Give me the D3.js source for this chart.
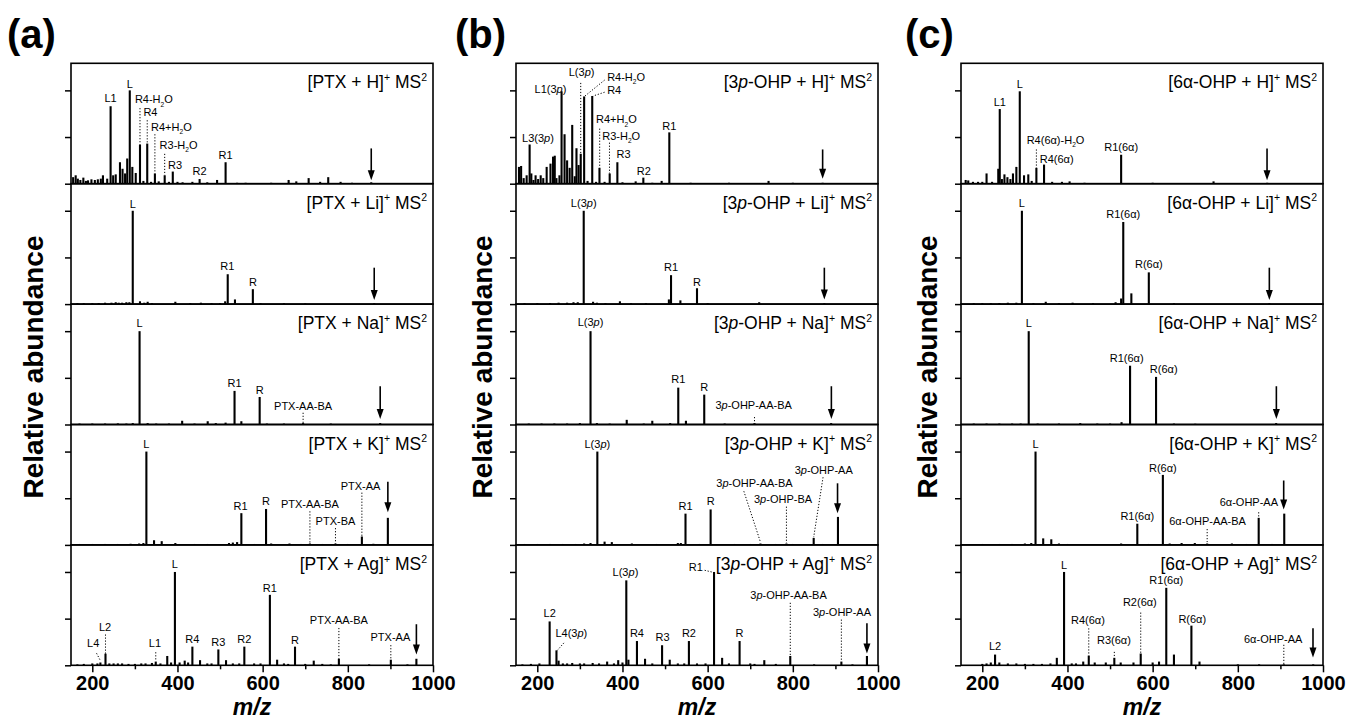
<!DOCTYPE html>
<html lang="en">
<head>
<meta charset="UTF-8">
<title>MS2 spectra of PTX, 3p-OHP and 6a-OHP adducts</title>
<script src="https://cdn.jsdelivr.net/npm/d3@7"></script>
<style>
	body { margin: 0; background: #fff; }
	svg { font-family: "Liberation Sans", Arial, sans-serif; }
	.pk { stroke: #000; stroke-width: 2.1; }
	.lead { stroke: #000; stroke-width: 1; stroke-dasharray: 1.2, 1.8; }
	.lbl { font-size: 11px; fill: #000; }
</style>
</head>
<body>
<script>
// ---- data (m/z, relative abundance) ----
var mzRange = [150, 1000];
var xTicks = [200, 400, 600, 800, 1000];
var xMinor = [300, 500, 700, 900];
var yTicks = [0, 50, 100];
var columnTags = ['(a)', '(b)', '(c)'];
var yTitle = 'Relative abundance';
var xTitle = 'm/z';

var titlesA = ['[PTX + H]^+ MS^2', '[PTX + Li]^+ MS^2', '[PTX + Na]^+ MS^2', '[PTX + K]^+ MS^2', '[PTX + Ag]^+ MS^2'];
var titlesB = ['[3*p*-OHP + H]^+ MS^2', '[3*p*-OHP + Li]^+ MS^2', '[3*p*-OHP + Na]^+ MS^2', '[3*p*-OHP + K]^+ MS^2', '[3*p*-OHP + Ag]^+ MS^2'];
var titlesC = ['[6α-OHP + H]^+ MS^2', '[6α-OHP + Li]^+ MS^2', '[6α-OHP + Na]^+ MS^2', '[6α-OHP + K]^+ MS^2', '[6α-OHP + Ag]^+ MS^2'];

var aH = [[155,7],[161,9],[166,5.4],[172,4],[179,6.5],[185,3],[190,3.6],[198,4.7],[206,4],[213,4.7],[220,5.4],[225,9],[235,5.4],[243,83],[249,9],[255,10],[265,23],[271,16],[277,11],[282,27],[288,100],[294,18],[302,11.5],[312,42],[320,3],[329,43],[338,2],[347,11],[356,2.5],[370,9],[380,2],[389,13],[400,2],[412,1.5],[435,2],[452,5],[470,1.5],[493,4],[513,23],[540,1],[560,1],[620,1],[661,4],[679,2.5],[708,6],[735,2],[754,7],[783,2],[810,1],[855,1.5]];
var aLi = [[165,1],[180,1],[200,1],[215,1.2],[230,1.5],[245,1.5],[255,2],[262,1.5],[270,1.5],[280,2],[287,2],[295,100],[312,3],[322,1.5],[330,2.5],[340,1],[395,2.5],[430,1],[455,1.5],[480,1],[500,1],[512,3],[518,32],[535,5],[577,16],[595,1],[650,1],[700,0.8],[862,1]];
var aNa = [[170,1],[200,1],[230,1],[260,1.2],[280,1],[295,1.5],[311,100],[330,1.5],[350,1],[380,1],[411,4],[440,1],[471,3.5],[490,1.5],[513,2],[534,36],[550,3.5],[593,29.5],[610,1],[650,1],[695,1.5],[760,1],[876,1.5]];
var aK = [[170,1],[200,1],[230,1],[260,1],[290,1.2],[310,1.5],[320,2],[327,100],[345,5],[363,4],[395,2],[440,1],[470,1],[521,2],[530,2.5],[540,3],[550,34],[580,1],[608,38.5],[620,1.5],[663,1.5],[690,1],[711,1.5],[740,1],[771,1.5],[800,1],[833,9],[860,1.2],[894,29],[920,0.8]];
var aAg = [[165,1],[180,1.5],[200,2],[212,2],[219,3],[231,12.5],[240,2],[250,2],[260,2],[270,2],[285,1.5],[300,1.5],[315,2],[325,2],[340,2.5],[349,4],[360,2],[376,10],[385,3],[394,100],[405,3],[417,5],[425,3],[435,20],[453,5.5],[470,2],[480,2],[496,17],[514,5.5],[530,2],[545,2],[557,20],[580,2],[595,2],[617,75.5],[634,6],[650,2],[660,1.5],[676,20],[700,1.5],[720,5],[740,1.5],[760,1],[779,7],[850,1],[901,6],[940,1],[961,7]];

var bH = [[157,18],[162,19],[168,6],[175,9],[182,42],[186,11],[191,4],[196,9],[202,5],[208,9],[214,6],[222,18],[231,21.5],[237,29],[241,30],[245,6],[252,9],[257,99],[264,53],[270,25],[276,17],[282,63],[288,8],[292,38],[297,20],[302,32],[310,93.5],[318,3],[329,94],[338,2],[346,17],[358,2],[370,11],[388,23],[400,1.5],[431,2.5],[449,6.5],[470,1],[492,3],[510,55],[560,1],[650,1],[743,3],[800,1],[870,1]];
var bLi = [[170,1],[200,1],[230,1.2],[250,1.5],[270,1.5],[285,2],[295,2],[309,100],[331,2.5],[340,1.5],[360,1],[394,3],[420,1],[455,1],[509,5],[514,31],[536,4],[575,17],[600,1],[721,2],[874,1]];
var bNa = [[180,1],[210,1],[240,1],[270,1],[300,1.5],[325,100],[340,1.5],[370,1],[410,5],[450,1],[470,4],[512,1.5],[531,39.5],[549,4],[592,32],[640,1],[710,1.5],[890,1.5]];
var bK = [[170,1],[200,1],[230,1],[260,1],[290,1],[310,1.5],[325,2],[341,100],[358,3.5],[375,3],[422,1.5],[480,1],[530,2],[537,2],[548,33.5],[580,1],[607,38],[663,1],[700,1],[724,1.5],[760,1],[785,1.5],[800,1],[849,7.5],[870,1],[906,30]];
var bAg = [[165,1],[185,1.5],[205,2],[229,47],[245,16],[250,5],[260,2],[270,2],[282,2.5],[300,2],[310,2],[330,2.5],[345,2],[364,4],[380,2],[390,5.5],[400,3],[409,91],[414,6],[434,26],[453,7],[470,2],[493,21.5],[511,6],[530,2],[545,2],[556,26],[575,2],[595,2],[615,100],[634,8],[650,2],[675,26],[700,2],[710,1.5],[733,5.5],[760,1.5],[794,10],[850,1],[914,4],[940,1],[974,10]];

var cH = [[161,4],[167,3.5],[178,2],[190,2],[200,2],[210,11],[223,2],[237.5,16],[241,80],[246,5],[252,10],[259,7],[266,5],[272,11],[280,18],[288,99],[298,9],[308,10],[316,3],[327,17],[345,20.5],[364,2],[387,2],[405,2.5],[440,1],[526,31],[600,1],[743,2.5],[869,1]];
var cLi = [[180,1],[200,1],[220,1],[240,1.2],[260,1.5],[280,1.5],[293,100],[320,1],[349,2.5],[380,1],[412,1.5],[460,1],[513,2],[526,6],[531,88],[550,11.5],[591,34],[650,1],[874,1]];
var cNa = [[180,1],[210,1],[240,1],[270,1],[290,1],[309,100],[330,1],[380,1],[430,1.5],[470,1],[500,1],[527,2.5],[547,63],[608,51],[650,1],[700,0.8],[890,1.5]];
var cK = [[200,1],[240,1],[270,1],[300,1.5],[315,2],[325,100],[343,7],[362,6],[380,1.5],[400,1],[526,1.5],[564,22.7],[590,1],[624,75],[640,1.5],[668,2],[699,2],[728,1.5],[786,1.5],[820,1],[849,29],[880,1],[909,33.5]];
var cAg = [[200,1.5],[210,2],[220,3],[230,11.5],[240,3],[260,2],[280,2],[300,1.5],[320,1.5],[340,1.5],[360,2],[375,8],[392,100],[410,2],[420,2],[437,4],[450,10.4],[464,3],[490,3],[510,8],[525,3],[555,3],[572,12.6],[600,3],[615,4],[632,83],[650,11.5],[691,42.5],[710,4],[800,1],[850,1],[908,1],[977,1]];

// peak labels: [text, m/z, abundance at baseline, anchor, dotted leader [mz1, y1, mz2, y2]]
var aHLab = [['L1',243,87],['L',288,102.5],['R4-H_2O',300,86,'s',[312,81,312,42]],['R4',320,72,'s',[329,68,329,43]],['R4+H_2O',338,56.5,'s',[347,53,347,11]],['R3-H_2O',358,37,'s',[370,32,370,9]],['R3',378,16,'s'],['R2',452,9],['R1',513,26]];
var aLiLab = [['L',295,103],['R1',517,36.7],['R',577,19.4]];
var aNaLab = [['L',311,104],['R1',534,40.6],['R',593,33],['PTX-AA-BA',695,15.5,'m',[695,12.6,695,1]]];
var aKLab = [['L',327,103.6],['R1',548,37.8],['R',608,42.4],['PTX-AA-BA',711,39.6,'m',[711,36,711,2]],['PTX-BA',771,21.6,'m',[771,18,771,1.5]],['PTX-AA',830,58.6,'m',[833,56,833,9]]];
var aAgLab = [['L',394,104],['R1',617,78.4],['R4',435,24],['R3',496,21],['R2',557,24],['R',676,22.7],['L1',347,19.3,'m',[349,14,349,5]],['L2',230,36.5,'m',[231,33,231,12.5]],['L4',202,19.3,'m',[210,12.9,219,5]],['PTX-AA-BA',779,44,'m',[779,40,779,7]],['PTX-AA',900,26,'m',[901,21.6,901,6]]];

var bHLab = [['L3(3*p*)',201.6,45],['L1(3*p*)',231,97],['L(3*p*)',304,115,'m',[302,108,302,32]],['R4-H_2O',364,110,'s',[358,111,312,94]],['R4',364,96.4,'s',[358,98,331,94]],['R4+H_2O',338,64.7,'s',[346.5,59,346.5,17]],['R3-H_2O',352.5,46.8,'s',[369.5,44,369.5,11]],['R3',386,27,'s'],['R2',450,9],['R1',510,58]];
var bLiLab = [['L(3*p*)',309,103.6],['R1',514,35.6],['R',575,19.4]];
var bNaLab = [['L(3*p*)',325,105],['R1',531,44],['R',592,36],['3*p*-OHP-AA-BA',708,17,'m',[710,8,710,3]]];
var bKLab = [['L(3*p*)',341,103.6],['R1',548,37.8],['R',607,42.4],['3*p*-OHP-AA-BA',710,62,'m',[685,57.5,724,3]],['3*p*-OHP-BA',777,45,'m',[785,41,785,2]],['3*p*-OHP-AA',872.5,76,'m',[871,72.5,849,8.3]]];
var bAgLab = [['L2',229,51.4],['L4(3*p*)',280,30.6,'m',[262.5,24,247,16]],['L(3*p*)',407,95.3],['R4',434,30],['R3',494,26],['R2',556,30],['R1',572,100.7,'m',[593,101.8,613,99.6]],['R',675,30.6],['3*p*-OHP-AA-BA',790,71,'m',[794,67,794,11]],['3*p*-OHP-AA',915.5,53,'m',[914,49,914,5]]];

var cHLab = [['L1',241,83.5],['L',288,102.5],['R4(6α)-H_2O',372,42.4],['R4(6α)',335,22.3,'s',[327,36.7,327,17]],['R1(6α)',526,35]];
var cLiLab = [['L',293,103.6],['R1(6α)',531,92.4],['R(6α)',591,38.5]];
var cNaLab = [['L',309,104],['R1(6α)',539,66.5],['R(6α)',626,54.7]];
var cKLab = [['L',325,103.6],['R(6α)',624,78.4],['R1(6α)',564,27],['6α-OHP-AA-BA',729,21,'m',[728,17,728,3]],['6α-OHP-AA',826,41.4,'m',[849,35,849,30]]];
var cAgLab = [['L',392,103.6],['R1(6α)',632,87.4],['R2(6α)',570,63.7,'m',[572,56.5,572,12.6]],['R4(6α)',448,44,'m',[450,39.6,450,10.4]],['R3(6α)',509,22.7,'m',[510,14.4,510,8]],['R(6α)',693,45.7],['L2',230,16],['6α-OHP-AA',883,24,'m',[908,22,908,1]]];

// precursor arrows: [m/z, top, bottom]
var arrowsA = [[855,37.8,3.6],[862,39,4.3],[876,41,6],[894,67.6,35],[961,44,11.5]];
var arrowsB = [[870,36.7,5.4],[874,39,5],[890.5,41,6],[905,66,34],[974,45,12.6]];
var arrowsC = [[868.6,37.8,3.6],[874,39,4.3],[890.5,41,6],[907.7,69,38],[976.5,39.6,8.3]];

var columns = [
	{tag: columnTags[0], titles: titlesA, peaks: [aH, aLi, aNa, aK, aAg], labels: [aHLab, aLiLab, aNaLab, aKLab, aAgLab], arrows: arrowsA},
	{tag: columnTags[1], titles: titlesB, peaks: [bH, bLi, bNa, bK, bAg], labels: [bHLab, bLiLab, bNaLab, bKLab, bAgLab], arrows: arrowsB},
	{tag: columnTags[2], titles: titlesC, peaks: [cH, cLi, cNa, cK, cAg], labels: [cHLab, cLiLab, cNaLab, cKLab, cAgLab], arrows: arrowsC}
];

// ---- layout ----
var colLeft = [71, 516, 961];
var tagX = [7, 455, 905];
var yLabX = [43, 492, 937];
var plotW = 362;
var top0 = 63.3, panelH = 120.4;

var svg = d3.select('body').append('svg')
	.attr('width', 1347)
	.attr('height', 722);

// text with _sub, ^sup and *italic* markup
function rich(sel, str, fs) {
	var segs = [], it = false;
	for (var i = 0; i < str.length; i++) {
		var ch = str[i];
		if (ch === '*') { it = !it; continue; }
		var m = 'n';
		if ((ch === '_' || ch === '^') && i + 1 < str.length) {
			m = ch === '_' ? 'sub' : 'sup';
			ch = str[++i];
		}
		var last = segs[segs.length - 1];
		if (last && last.m === m && last.it === it) last.t += ch;
		else segs.push({t: ch, m: m, it: it});
	}
	var cur = 0;
	segs.forEach(function (s) {
		var shift = s.m === 'sup' ? -0.42 * fs : s.m === 'sub' ? 0.3 * fs : 0;
		sel.append('tspan')
			.attr('dy', shift - cur)
			.style('font-size', s.m === 'n' ? null : (0.6 * fs) + 'px')
			.style('font-style', s.it ? 'italic' : null)
			.text(s.t);
		cur = shift;
	});
}

var x = d3.scaleLinear().domain(mzRange).range([0, plotW]);
var y = d3.scaleLinear().domain([0, 129]).range([panelH, 0]);

columns.forEach(function (col, c) {
	svg.append('text')
		.attr('x', tagX[c]).attr('y', 48)
		.style('font-size', '40px').style('font-weight', 'bold')
		.text(col.tag);

	svg.append('text')
		.attr('transform', 'translate(' + yLabX[c] + ',367) rotate(-90)')
		.attr('text-anchor', 'middle')
		.style('font-size', '28px').style('font-weight', 'bold')
		.text(yTitle);

	svg.append('text')
		.attr('x', colLeft[c] + plotW / 2).attr('y', 715)
		.attr('text-anchor', 'middle')
		.style('font-size', '23px').style('font-weight', 'bold').style('font-style', 'italic')
		.text(xTitle);

	col.peaks.forEach(function (peaks, r) {
		var g = svg.append('g')
			.attr('transform', 'translate(' + colLeft[c] + ',' + (top0 + r * panelH) + ')');

		g.selectAll('.pk')
			.data(peaks)
			.enter().append('line')
			.attr('class', 'pk')
			.attr('x1', function (d) { return x(d[0]); })
			.attr('x2', function (d) { return x(d[0]); })
			.attr('y1', y(0))
			.attr('y2', function (d) { return y(d[1]); });

		var labs = col.labels[r];
		g.selectAll('.lead')
			.data(labs.filter(function (d) { return d[4]; }))
			.enter().append('line')
			.attr('class', 'lead')
			.attr('x1', function (d) { return x(d[4][0]); })
			.attr('y1', function (d) { return y(d[4][1]); })
			.attr('x2', function (d) { return x(d[4][2]); })
			.attr('y2', function (d) { return y(d[4][3]); });

		labs.forEach(function (d) {
			var t = g.append('text')
				.attr('class', 'lbl')
				.attr('x', x(d[1]))
				.attr('y', y(d[2]))
				.attr('text-anchor', d[3] === 's' ? 'start' : d[3] === 'e' ? 'end' : 'middle');
			rich(t, d[0], 11);
		});

		// precursor arrow
		var a = col.arrows[r];
		var ax = x(a[0]), ay1 = y(a[1]), ay2 = y(a[2]);
		g.append('line')
			.attr('x1', ax).attr('x2', ax)
			.attr('y1', ay1).attr('y2', ay2 - 6)
			.style('stroke', '#000').style('stroke-width', 1.6);
		g.append('path')
			.attr('d', 'M' + (ax - 3.5) + ',' + (ay2 - 10) + 'L' + (ax + 3.5) + ',' + (ay2 - 10) + 'L' + ax + ',' + ay2 + 'Z')
			.style('fill', '#000');

		var tt = g.append('text')
			.attr('x', plotW - 6).attr('y', 25)
			.attr('text-anchor', 'end')
			.style('font-size', '17.5px');
		rich(tt, col.titles[r], 17.5);

		g.append('rect')
			.attr('width', plotW).attr('height', panelH)
			.style('fill', 'none').style('stroke', '#000').style('stroke-width', 1.6);

		var ya = g.append('g')
			.call(d3.axisLeft(y).tickValues(yTicks).tickSize(6).tickFormat(''));
		ya.select('.domain').remove();
		ya.selectAll('line').style('stroke-width', 1.5);

		if (r === col.peaks.length - 1) {
			var xa = g.append('g')
				.attr('transform', 'translate(0,' + panelH + ')')
				.call(d3.axisBottom(x).tickValues(xTicks).tickSize(7).tickPadding(4).tickFormat(d3.format('d')));
			xa.select('.domain').remove();
			xa.selectAll('line').style('stroke-width', 1.5);
			xa.selectAll('text')
				.attr('font-family', null).attr('font-size', null)
				.style('font-size', '20px').style('font-weight', 'bold');

			var xm = g.append('g')
				.attr('transform', 'translate(0,' + panelH + ')')
				.call(d3.axisBottom(x).tickValues(xMinor).tickSize(4).tickFormat(''));
			xm.select('.domain').remove();
			xm.selectAll('line').style('stroke-width', 1.5);
		}
	});
});
</script>
</body>
</html>
